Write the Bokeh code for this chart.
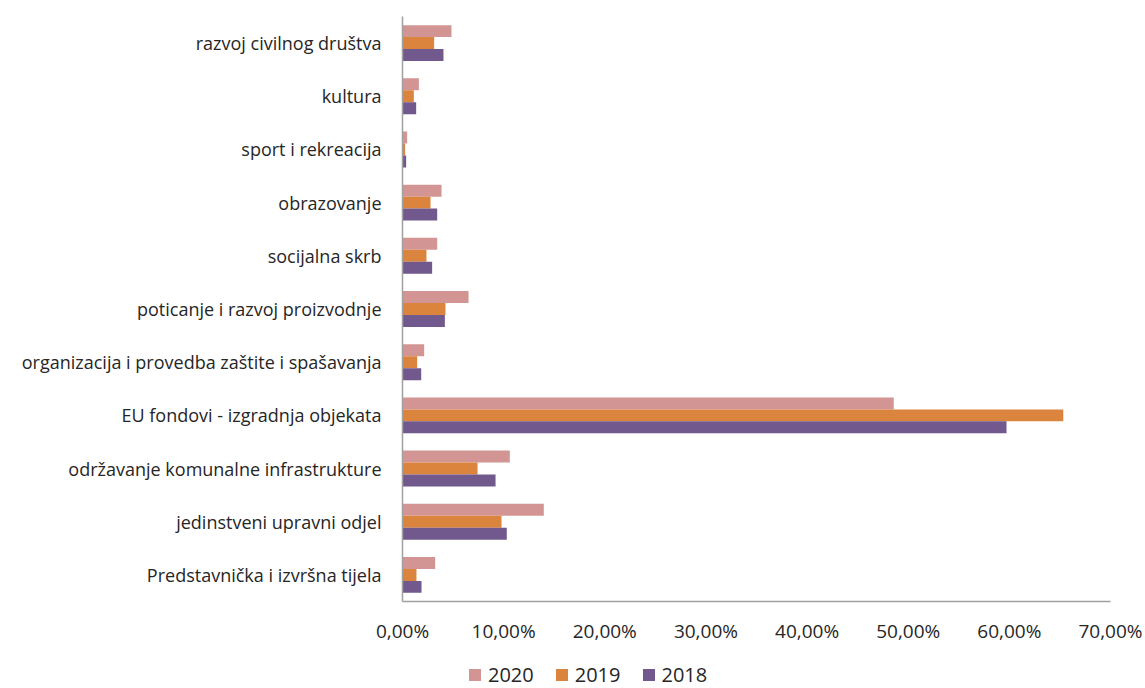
from bokeh.plotting import figure
from bokeh.layouts import column
from bokeh.models import FactorRange, Range1d, Legend, LegendItem, FixedTicker, ColumnDataSource
from bokeh.transform import dodge
from bokeh.embed import file_html
from bokeh.resources import INLINE

categories = [
    "Predstavnička i izvršna tijela",
    "jedinstveni upravni odjel",
    "održavanje komunalne infrastrukture",
    "EU fondovi - izgradnja objekata",
    "organizacija i provedba zaštite i spašavanja",
    "poticanje i razvoj proizvodnje",
    "socijalna skrb",
    "obrazovanje",
    "sport i rekreacija",
    "kultura",
    "razvoj civilnog društva",
]
v2020 = [3.23, 13.97, 10.61, 48.57, 2.14, 6.53, 3.43, 3.86, 0.46, 1.62, 4.84]
v2019 = [1.38, 9.79, 7.42, 65.33, 1.45, 4.25, 2.37, 2.77, 0.26, 1.12, 3.13]
v2018 = [1.88, 10.31, 9.20, 59.72, 1.85, 4.19, 2.93, 3.43, 0.36, 1.35, 4.05]
years = ["2020", "2019", "2018"]
x_ticks = [0, 10, 20, 30, 40, 50, 60, 70]
x_tick_labels = ["0,00%", "10,00%", "20,00%", "30,00%", "40,00%", "50,00%", "60,00%", "70,00%"]

colors = ["#D39494", "#DB843D", "#71598D"]
FONT = "Open Sans"
TEXT = "#262626"

src = ColumnDataSource(dict(cat=categories, v2020=v2020, v2019=v2019, v2018=v2018))

p = figure(width=1145, height=660, y_range=FactorRange(*categories), x_range=Range1d(0, 70),
           output_backend="svg", toolbar_location=None,
           min_border_left=402, min_border_right=35, min_border_top=16, min_border_bottom=59)

bh = 0.225
offsets = [bh, 0.0, -bh]
renderers = []
for yr, col, off in zip(years, colors, offsets):
    r = p.hbar(y=dodge("cat", off, range=p.y_range), left=0, right="v" + yr, height=bh,
               source=src, fill_color=col, line_color=None)
    renderers.append(r)

p.outline_line_color = None
p.xgrid.grid_line_color = None
p.ygrid.grid_line_color = None

for ax in (p.xaxis[0], p.yaxis[0]):
    ax.axis_line_color = "#A0A0A0"
    ax.axis_line_width = 1.5
    ax.major_tick_line_color = None
    ax.minor_tick_line_color = None
    ax.major_tick_out = 0
    ax.major_tick_in = 0
    ax.minor_tick_out = 0
    ax.major_label_text_font = FONT
    ax.major_label_text_color = TEXT

p.yaxis.major_label_text_font_size = "18px"
p.xaxis.major_label_text_font_size = "19px"
p.yaxis.major_label_standoff = 21
p.xaxis.major_label_standoff = 16
p.xaxis.ticker = FixedTicker(ticks=x_ticks)
p.xaxis.major_label_overrides = {t: l for t, l in zip(x_ticks, x_tick_labels)}

# legend strip below the chart (its frame is aligned with the chart's frame by the column)
lg = figure(width=1145, height=28, x_range=Range1d(0, 1), y_range=Range1d(0, 1),
            output_backend="svg", toolbar_location=None,
            min_border_left=0, min_border_right=0, min_border_top=0, min_border_bottom=0)
lg.axis.visible = False
lg.grid.visible = False
lg.outline_line_color = None
swatch = ColumnDataSource(dict(y=[5], r=[0]))
lrs = [lg.hbar(y="y", right="r", left=0, height=0.5, source=swatch, fill_color=c, line_color=None)
       for c in colors]
legend = Legend(items=[LegendItem(label=y, renderers=[r]) for y, r in zip(years, lrs)],
                orientation="horizontal", location=(65, 0),
                glyph_width=15, glyph_height=15, label_standoff=6, spacing=20,
                padding=0, margin=0, border_line_color=None, background_fill_alpha=0,
                label_text_font=FONT, label_text_font_size="20px", label_text_color=TEXT)
lg.add_layout(legend, "center")

layout = column(p, lg, spacing=0)
open("out.html", "w").write(file_html(layout, INLINE))
